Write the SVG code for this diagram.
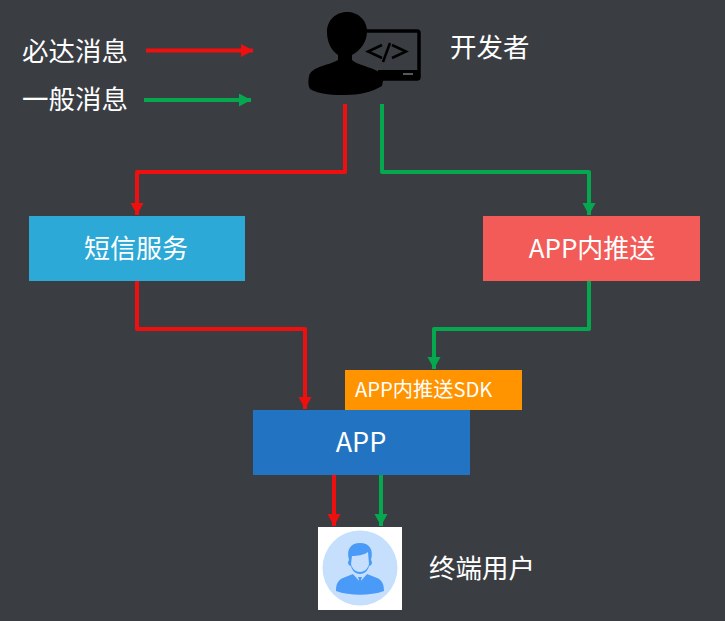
<svg xmlns="http://www.w3.org/2000/svg" width="725" height="621" viewBox="0 0 725 621">
<style>
.c{fill:none;stroke-width:4;stroke-linejoin:round}
.r{stroke:#f00f0f}.g{stroke:#05a84f}
.t{font-family:"Noto Sans CJK SC","Liberation Sans",sans-serif;fill:#fff}
.l{font-size:26.500px}
.b{font-size:26px;text-anchor:middle}
.k{fill:none;stroke:#000;stroke-width:2.500}
</style>
<defs>
<marker id="ar" markerUnits="userSpaceOnUse" markerWidth="13" markerHeight="14" refX="12" refY="6.500" orient="auto"><path d="M0 0L12 6.500L0 13z" fill="#f00f0f"/></marker>
<marker id="ag" markerUnits="userSpaceOnUse" markerWidth="13" markerHeight="14" refX="12" refY="6.500" orient="auto"><path d="M0 0L12 6.500L0 13z" fill="#05a84f"/></marker>
</defs>
<rect width="725" height="621" fill="#3a3e42"/>
<g id="connectors">
<path class="c r" marker-end="url(#ar)" d="M146 50.500H253"/>
<path class="c g" marker-end="url(#ag)" d="M144 100H251"/>
<path class="c r" marker-end="url(#ar)" d="M345 104V172H137V215"/>
<path class="c g" marker-end="url(#ag)" d="M382 104V172H589V215"/>
<path class="c r" marker-end="url(#ar)" d="M137 281V329H305V409"/>
<path class="c g" marker-end="url(#ag)" d="M589 281V329H434V369"/>
<path class="c r" marker-end="url(#ar)" d="M334 475V526"/>
<path class="c g" marker-end="url(#ag)" d="M381 475V526"/>
</g>
<g id="legend-required"><text class="t l" x="22" y="61">必达消息</text></g>
<g id="legend-general"><text class="t l" x="22" y="109">一般消息</text></g>
<g id="developer">
<path fill="none" stroke="#000" stroke-width="3.500" d="M362 31H417Q419 31 419 33V77Q419 79 417 79H380"/>
<path d="M378 70H420V78Q420 80 418 80H378z" fill="#000"/>
<rect x="403" y="73" width="10" height="2" fill="#55585c"/>
<path class="k" d="M382 45L368 51.500L382 58M392 45L406 51.500L392 58"/>
<path class="k" d="M390 43L383 62"/>
<path fill="#000" d="M347 12C335 12 327 21 327 32C327 42 331 50 338 55L338 60C328 66 312 66 309 76C308 81 308 86 310 89C320 95 335 95 345 95C360 95 372 92 382 86L384 76C376 67 358 66 352 60L352 55C361 50 367 42 367 31C367 20 358 12 347 12Z"/>
<text class="t l" x="450" y="57">开发者</text>
</g>
<g id="sms"><rect x="29" y="216" width="216" height="65" fill="#2ca9d6"/><text class="t b" x="136" y="258">短信服务</text></g>
<g id="push"><rect x="483" y="216" width="217" height="65" fill="#f25b57"/><text class="t b" x="592" y="258">APP内推送</text></g>
<g id="sdk"><rect x="345" y="370" width="177" height="40" fill="#ff9400"/><text class="t" x="355" y="397" font-size="20.200">APP内推送SDK</text></g>
<g id="app"><rect x="253" y="410" width="217" height="65" fill="#2274c2"/><text class="t b" x="361" y="452" style="font-size:27px">APP</text></g>
<g id="user">
<rect x="318" y="527" width="84" height="83" fill="#fff"/>
<circle cx="360" cy="568" r="37.500" fill="#c5dffd"/>
<path fill="#4a9bf8" d="M336 591C336 584 338 580 343 578L353 574L358 578H362L367 574L377 578C382 580 384 584 384 591C370 596 350 596 336 591Z"/>
<path fill="#c5dffd" d="M353 574L360 582L367 574L362 571H358Z"/>
<path fill="#4a9bf8" d="M358 577H362L361 580L363 588L360 592L357 588L359 580Z"/>
<path fill="#4a9bf8" d="M349 560C346 549 351 543 360 543C369 543 374 549 371 560L372 562C372 565 370 566 369 566C368 571 364 574 360 574C356 574 352 571 351 566C350 566 348 565 348 562Z"/>
<path fill="#c5dffd" d="M352 556C357 556 364 555 368 552L369 564C368 569 364 572 360 572C356 572 352 569 351 564Z"/>
<text class="t l" x="429" y="578">终端用户</text>
</g>
</svg>
